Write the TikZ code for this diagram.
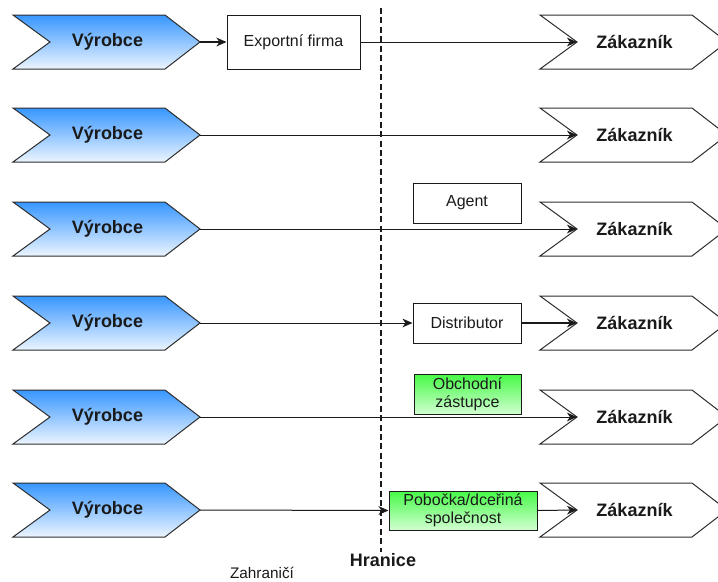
\documentclass[tikz,border=0pt]{standalone}
\usepackage{fontspec}
\setmainfont{Liberation Sans}
\usetikzlibrary{arrows.meta}

\definecolor{ink}{RGB}{26,26,26}
\definecolor{edge}{RGB}{45,45,45}
\definecolor{blueTop}{RGB}{55,150,255}
\definecolor{blueBot}{RGB}{236,245,255}
\definecolor{greenTop}{RGB}{70,250,70}
\definecolor{greenBot}{RGB}{210,255,210}

\tikzset{
  producer/.style={draw=edge, line width=0.75pt, top color=blueTop, bottom color=blueBot, line join=miter},
  customer/.style={draw=edge, line width=0.75pt, fill=white, line join=miter},
  chevlabel/.style={text=ink, font=\fontsize{13.5pt}{16pt}\selectfont\bfseries, inner sep=0pt},
  plainbox/.style={draw=ink, line width=0.75pt, fill=white, text=ink, align=center,
    font=\fontsize{12pt}{13.5pt}\selectfont, inner sep=0pt},
  greenbox/.style={plainbox, top color=greenTop, bottom color=greenBot},
  flow/.style={draw=ink, line width=0.75pt, -{Stealth[length=7.5pt,width=6.5pt,inset=2.2pt]}},
  border/.style={draw=ink, line width=1.6pt, dash pattern=on 4.5pt off 2.6pt},
}

% chevron: #1 name, #2 left x, #3 centre y, #4 style, #5 label
\newcommand\chevron[5]{%
  \draw[#4] (#2,#3-27) -- (#2+152,#3-27) -- (#2+187,#3) -- (#2+152,#3+27)
            -- (#2,#3+27) -- (#2+37,#3) -- cycle;
  \coordinate (#1-tip) at (#2+187,#3);
  \coordinate (#1-notch) at (#2+37,#3);
  \node[chevlabel] (#1) at (#2+94.5,#3) {#5};
}

\begin{document}
\begin{tikzpicture}[x=0.75pt,y=-0.75pt]
\useasboundingbox (0,0) rectangle (718,582);

% border line between home market and abroad
\coordinate (bTop) at (381,8);
\coordinate (bBot) at (381,552);
\draw[border] (bTop) -- (bBot);
\node[chevlabel] (hranice) at (383,560) {Hranice};
\node[text=ink, font=\fontsize{11.5pt}{13.5pt}\selectfont, inner sep=0pt] (zahranici) at (262,573) {Zahraničí};

% producers and customers, one row per channel
\foreach \r/\y in {1/42,2/135,3/229,4/323,5/417,6/510}{
  \chevron{v\r}{13}{\y}{producer}{Výrobce}
  \chevron{z\r}{540}{\y}{customer}{Zákazník}
}

% intermediaries
\node[plainbox, minimum width=133pt*0.75, minimum height=54pt*0.75] (export) at (293.5,42) {Exportní firma};
\node[plainbox, minimum width=108pt*0.75, minimum height=40pt*0.75] (agent) at (467,203) {Agent};
\node[plainbox, minimum width=108pt*0.75, minimum height=40pt*0.75] (distr) at (467,323) {Distributor};
\node[greenbox, minimum width=107pt*0.75, minimum height=40pt*0.75] (obch) at (467.5,394) {Obchodní\\zástupce};
\node[greenbox, minimum width=148pt*0.75, minimum height=39pt*0.75] (pob) at (463,510.5) {Pobočka/dceřiná\\společnost};

% channel 1: export firm
\draw[flow, line width=1.4pt] (v1-tip) -- (export.west);
\draw[flow] (export.east) -- (z1-notch);
% channel 2: direct
\draw[flow] (v2-tip) -- (z2-notch);
% channel 3: agent
\draw[flow] (v3-tip) -- (z3-notch);
% channel 4: distributor
\draw[flow] (v4-tip) -- (distr.west);
\draw[flow, line width=1.3pt] (distr.east) -- (z4-notch);
% channel 5: sales representative
\draw[flow] (v5-tip) -- (z5-notch);
% channel 6: branch / subsidiary
\draw[flow] (v6-tip) -- (pob.west);
\draw[flow] (pob.east) -- (z6-notch);
\end{tikzpicture}
\end{document}
